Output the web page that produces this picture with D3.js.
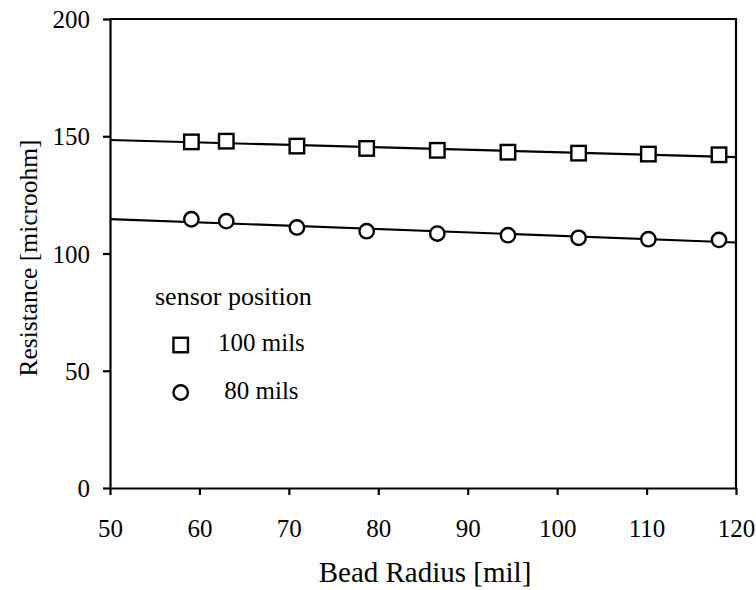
<!DOCTYPE html>
<html>
<head>
<meta charset="utf-8">
<script src="https://cdn.jsdelivr.net/npm/d3@7"></script>
<style>
  html, body { margin: 0; padding: 0; background: #fff; }
  svg text { font-family: "Liberation Serif", "Times New Roman", serif; fill: #000; }
</style>
</head>
<body>
<svg id="chart" width="756" height="590"></svg>
<script>
// ---- data ----
const beadRadius = [59.1, 63.0, 70.9, 78.7, 86.6, 94.5, 102.4, 110.2, 118.1];
const res100mils = [147.6, 147.9, 145.8, 144.8, 144.0, 143.2, 142.8, 142.4, 142.1];
const res80mils  = [114.6, 113.8, 111.1, 109.5, 108.5, 107.8, 106.7, 106.1, 105.8];
const trendX = [50, 120];
const trend100mils = [148.4, 141.1];
const trend80mils  = [114.7, 104.7];
const xTicks = [50, 60, 70, 80, 90, 100, 110, 120];
const yTicks = [0, 50, 100, 150, 200];
const legendTitle = "sensor position";
const legendLabels = ["100 mils", " 80 mils"];
const xTitle = "Bead Radius [mil]";
const yTitle = "Resistance [microohm]";

// ---- layout ----
const L = 110, R = 736, T = 19, B = 488;
const svg = d3.select("#chart");
const x = d3.scaleLinear().domain([50, 120]).range([L, R]);
const y = d3.scaleLinear().domain([0, 200]).range([B, T]);
const SW = 2.2;
const FONT = '"Liberation Serif", "Times New Roman", serif';

// frame (top and right)
svg.append("path")
  .attr("d", `M${L},${T}H${R}V${B}`)
  .attr("fill", "none").attr("stroke", "#000").attr("stroke-width", SW);

// y axis
const gy = svg.append("g").attr("transform", `translate(${L},0)`)
  .call(d3.axisLeft(y).tickValues(yTicks).tickSize(7).tickSizeOuter(0).tickFormat(d3.format("d")));
gy.select(".domain").attr("stroke-width", SW).attr("stroke", "#000");
gy.selectAll(".tick line").attr("stroke-width", SW).attr("stroke", "#000");
gy.selectAll(".tick text")
  .attr("x", -20).attr("dy", null).attr("y", 8.5)
  .attr("font-size", 25).attr("text-anchor", "end")
  .style("font-family", FONT);

// x axis
const gx = svg.append("g").attr("transform", `translate(0,${B})`)
  .call(d3.axisBottom(x).tickValues(xTicks).tickSize(7).tickSizeOuter(0).tickFormat(d3.format("d")));
gx.select(".domain").attr("stroke-width", SW).attr("stroke", "#000");
gx.selectAll(".tick line").attr("stroke-width", SW).attr("stroke", "#000");
gx.selectAll(".tick text")
  .attr("y", 49).attr("dy", null)
  .attr("font-size", 25)
  .style("font-family", FONT);

// axis titles
svg.append("text")
  .attr("x", 425).attr("y", 582)
  .attr("text-anchor", "middle").attr("font-size", 29)
  .text(xTitle);
svg.append("text")
  .attr("transform", `translate(37,258) rotate(-90)`)
  .attr("text-anchor", "middle").attr("font-size", 25.5)
  .text(yTitle);

// trend lines
const line = d3.line().x(d => x(d[0])).y(d => y(d[1]));
[trend100mils, trend80mils].forEach(t => {
  svg.append("path")
    .attr("d", line(trendX.map((v, i) => [v, t[i]])))
    .attr("fill", "none").attr("stroke", "#000").attr("stroke-width", SW);
});

// markers
const SQ = 14.5, CR = 7.2;
svg.append("g").selectAll("rect")
  .data(beadRadius.map((v, i) => [v, res100mils[i]]))
  .join("rect")
  .attr("x", d => x(d[0]) - SQ / 2).attr("y", d => y(d[1]) - SQ / 2)
  .attr("width", SQ).attr("height", SQ)
  .attr("fill", "#fff").attr("stroke", "#000").attr("stroke-width", 2.4);
svg.append("g").selectAll("circle")
  .data(beadRadius.map((v, i) => [v, res80mils[i]]))
  .join("circle")
  .attr("cx", d => x(d[0])).attr("cy", d => y(d[1]))
  .attr("r", CR)
  .attr("fill", "#fff").attr("stroke", "#000").attr("stroke-width", 2.4);

// legend
svg.append("text").attr("x", 155).attr("y", 305).attr("font-size", 26).text(legendTitle);
svg.append("rect")
  .attr("x", 180.7 - SQ / 2).attr("y", 345 - SQ / 2).attr("width", SQ).attr("height", SQ)
  .attr("fill", "#fff").attr("stroke", "#000").attr("stroke-width", 2.4);
svg.append("circle")
  .attr("cx", 180.7).attr("cy", 392.5).attr("r", CR)
  .attr("fill", "#fff").attr("stroke", "#000").attr("stroke-width", 2.4);
svg.append("text").attr("x", 218).attr("y", 351).attr("font-size", 25)
  .attr("xml:space", "preserve").style("white-space", "pre").text(legendLabels[0]);
svg.append("text").attr("x", 218).attr("y", 399).attr("font-size", 25)
  .attr("xml:space", "preserve").style("white-space", "pre").text(legendLabels[1]);
</script>
</body>
</html>
